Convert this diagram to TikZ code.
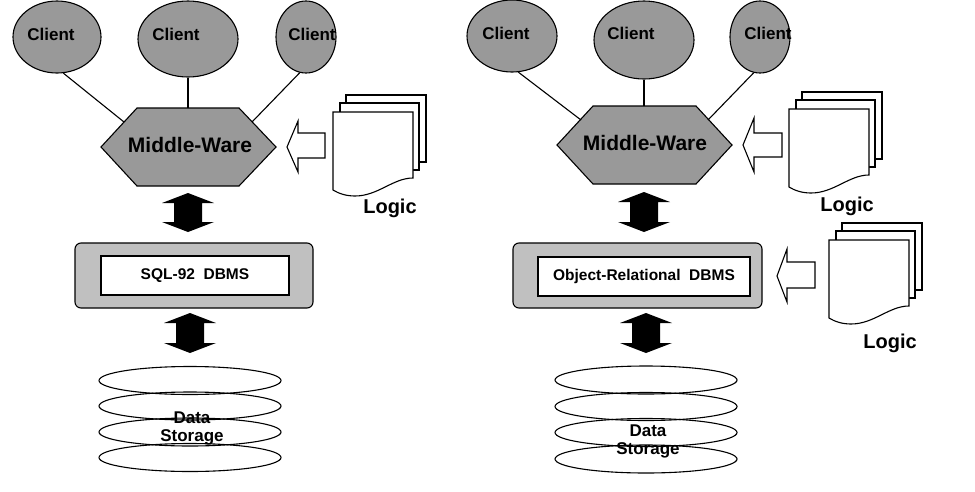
\documentclass[tikz,border=0pt]{standalone}
\usepackage{fontspec}
\setmainfont{Liberation Sans}
\usetikzlibrary{shapes.geometric}
\definecolor{clgray}{RGB}{153,153,153}
\definecolor{dbgray}{RGB}{192,192,192}
\tikzset{
  ln/.style={line width=1.1pt},
  client/.style={ellipse, draw, ln, fill=clgray, inner sep=0pt},
  clabel/.style={font=\bfseries\fontsize{17}{20}\selectfont, inner sep=0pt},
  mwlabel/.style={font=\bfseries\fontsize{21}{24}\selectfont, inner sep=0pt},
  loglabel/.style={font=\bfseries\fontsize{20}{24}\selectfont, inner sep=0pt},
  dblabel/.style={font=\bfseries\fontsize{15.5}{18}\selectfont, inner sep=0pt},
  dsl/.style={font=\bfseries\fontsize{17}{20}\selectfont, inner sep=0pt},
  dbout/.style={draw, ln, fill=dbgray, rounded corners=6pt, inner sep=0pt},
  dbin/.style={draw, ln, fill=white, inner sep=0pt, font=\bfseries\fontsize{15.5}{18}\selectfont},
  disk/.style={ellipse, draw, ln, inner sep=0pt, minimum width=182pt, minimum height=28pt},
  hollow/.style={draw, ln, fill=white, line join=miter},
  logicdoc/.pic={
    \draw[ln, fill=white] (13,-17) rectangle (93,50);
    \draw[ln, fill=white] (7,-9) rectangle (86,58);
    \draw[ln, fill=white] (0,0) -- (80,0) -- (80,66)
      .. controls (60,66) and (45,84) .. (22,84)
      .. controls (12,84) and (5,81) .. (0,78) -- cycle;
  }
}
\newcommand\blockdbl[3]{%
  \fill (#1,#2) -- (#1+26,#2+10) -- (#1+14,#2+10) -- (#1+14,#3-10) -- (#1+26,#3-10)
    -- (#1,#3) -- (#1-26,#3-10) -- (#1-14,#3-10) -- (#1-14,#2+10) -- (#1-26,#2+10) -- cycle;}
\begin{document}
\begin{tikzpicture}[x=1pt, y=-1pt]
\useasboundingbox (0,0) rectangle (975,491);
\fill[white] (0,0) rectangle (975,491);

% ================= LEFT =================
% hexagon
\draw[ln, fill=clgray] (101,147) -- (137,108) -- (239,108) -- (276,147) -- (239,186) -- (137,186) -- cycle;
\node[mwlabel] (mwL) at (190,145) {Middle-Ware};
\coordinate (hL1) at (124,122);
\coordinate (hL2) at (188,108);
\coordinate (hL3) at (252,122);
% clients
\node[client, minimum width=88pt, minimum height=72pt] (cL1) at (57,37) {};
\node[client, minimum width=100pt, minimum height=76pt] (cL2) at (188,39) {};
\node[client, minimum width=60pt, minimum height=72pt] (cL3) at (306,37) {};
\node[clabel] (tL1) at (51,34) {Client};
\node[clabel] (tL2) at (176,34) {Client};
\node[clabel] (tL3) at (312,34) {Client};
\draw[ln] (cL1.-80) -- (hL1);
\draw[ln] (cL2.south) -- (hL2);
\draw[ln] (cL3.-100) -- (hL3);
% logic
\draw[hollow] (287,147) -- (298,121) -- (298,133) -- (325,133) -- (325,158) -- (298,158) -- (298,172) -- cycle;
\pic (docL) at (333,112) {logicdoc};
\node[loglabel] (lgL) at (390,208) {Logic};
% dbms
\blockdbl{188}{193}{232}
\node[dbout, minimum width=238pt, minimum height=65pt] (dbL) at (194,275.5) {};
\node[dbin, minimum width=188pt, minimum height=39pt] (dbiL) at (195,275.5) {SQL-92\ \ DBMS};
\blockdbl{190}{313}{353}
% storage
\node[disk] (dL1) at (190,380.5) {};
\node[disk] (dL2) at (190,406) {};
\node[disk] (dL3) at (190,432) {};
\node[disk] (dL4) at (190,457.5) {};
\node[dsl] (dsL1) at (192,418) {Data};
\node[dsl] (dsL2) at (192,437) {Storage};

% ================= RIGHT =================
\draw[ln, fill=clgray] (557,145) -- (593,106) -- (696,106) -- (732,145) -- (696,184) -- (593,184) -- cycle;
\node[mwlabel] (mwR) at (645,143) {Middle-Ware};
\coordinate (hR1) at (581,120);
\coordinate (hR2) at (644,106);
\coordinate (hR3) at (708,120);
\node[client, minimum width=90pt, minimum height=72pt] (cR1) at (512,36) {};
\node[client, minimum width=100pt, minimum height=78pt] (cR2) at (644,40) {};
\node[client, minimum width=60pt, minimum height=72pt] (cR3) at (760,37) {};
\node[clabel] (tR1) at (506,33) {Client};
\node[clabel] (tR2) at (631,33) {Client};
\node[clabel] (tR3) at (768,33) {Client};
\draw[ln] (cR1.-80) -- (hR1);
\draw[ln] (cR2.south) -- (hR2);
\draw[ln] (cR3.-100) -- (hR3);
% logic top
\draw[hollow] (743,145) -- (754,118) -- (754,133) -- (782,133) -- (782,157) -- (754,157) -- (754,172) -- cycle;
\pic (docR1) at (789,109) {logicdoc};
\node[loglabel] (lgR1) at (847,206) {Logic};
% dbms
\blockdbl{644}{192}{232}
\node[dbout, minimum width=249pt, minimum height=65pt] (dbR) at (637.5,275.5) {};
\node[dbin, minimum width=212pt, minimum height=39pt] (dbiR) at (644,276.5) {Object-Relational\ \ DBMS};
% logic lower
\draw[hollow] (777,276) -- (787,249) -- (787,262) -- (815,262) -- (815,288) -- (787,288) -- (787,302) -- cycle;
\pic (docR2) at (829,240) {logicdoc};
\node[loglabel] (lgR2) at (890,343) {Logic};
\blockdbl{646}{313}{353}
% storage
\node[disk] (dR1) at (646,380) {};
\node[disk] (dR2) at (646,406.5) {};
\node[disk] (dR3) at (646,432.5) {};
\node[disk] (dR4) at (646,459) {};
\node[dsl] (dsR1) at (648,431) {Data};
\node[dsl] (dsR2) at (648,450) {Storage};
\end{tikzpicture}
\end{document}
